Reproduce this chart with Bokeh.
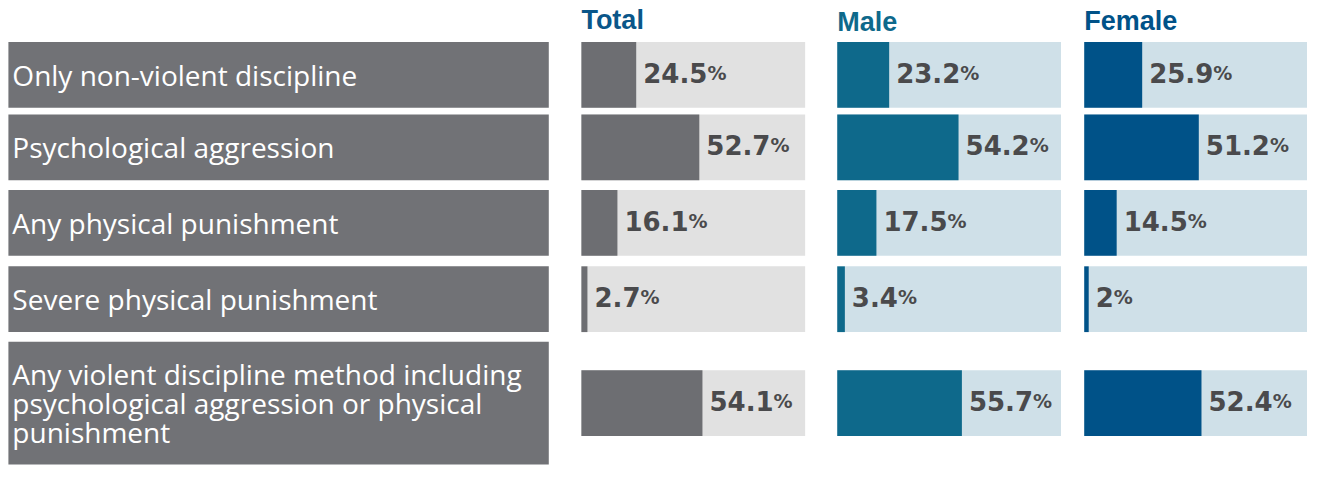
from bokeh.plotting import figure
from bokeh.models import Range1d, ColumnDataSource
from bokeh.core.properties import value
from bokeh.embed import file_html
from bokeh.resources import INLINE

# ---- data ----
categories = [
    "Only non-violent discipline",
    "Psychological aggression",
    "Any physical punishment",
    "Severe physical punishment",
    "Any violent discipline method including\npsychological aggression or physical\npunishment",
]
groups = ["Total", "Male", "Female"]
total = [24.5, 52.7, 16.1, 2.7, 54.1]
male = [23.2, 54.2, 17.5, 3.4, 55.7]
female = [25.9, 51.2, 14.5, 2.0, 52.4]
series = [total, male, female]

# ---- layout (reference pixel grid, scaled to the drawable area) ----
W, H = 1307, 465
SX, SY = W / 1323, H / 481
LABEL_L, LABEL_R = 8 * SX, 555 * SX
PANEL_START = [588 * SX, 847 * SX, 1097 * SX]
PANEL_W = 226.5 * SX
ROW_TOP = [t * SY for t in [43, 118, 196, 275, 353]]
ROW_BOT = [b * SY for b in [111, 186, 264, 343, 480]]
BAR_H = 68 * SY
TITLE_Y = [20 * SY, 22 * SY, 21 * SY]

bar_colors = ["#6d6e72", "#0e698b", "#005288"]
bg_colors = ["#e1e1e1", "#cfe0e8", "#cfe0e8"]
title_colors = ["#0a5689", "#0e698b", "#005288"]
box_color = "#717276"
val_color = "#4a4a4c"

NUM_SIZE = 26
PCT_SIZE = 19
GAP = 7

def num_width(s):
    # DejaVu Sans Bold advance widths
    return sum(0.380 if ch == "." else 0.696 for ch in s) * NUM_SIZE

p = figure(width=W, height=H, x_range=Range1d(0, W), y_range=Range1d(H, 0),
           output_backend="svg", toolbar_location=None, min_border=0,
           x_axis_type=None, y_axis_type=None, background_fill_color="white",
           border_fill_color="white")
p.grid.visible = False
p.outline_line_color = None

centers = [(t + b) / 2 for t, b in zip(ROW_TOP, ROW_BOT)]

# category boxes + labels
p.quad(left=LABEL_L, right=LABEL_R, top=ROW_TOP, bottom=ROW_BOT,
       fill_color=box_color, line_color=None)
p.text(x=[12 * SX] * len(categories), y=centers, text=categories,
       text_font=value("Open Sans"), text_font_size="28px", text_color="white",
       text_baseline="middle", text_align="left", text_line_height=0.77)

ranges = {}
for g, s in zip(groups, PANEL_START):
    ranges[g] = Range1d(-s / PANEL_W * 100, (W - s) / PANEL_W * 100)
p.extra_x_ranges = ranges

for i, g in enumerate(groups):
    vals = series[i]
    labs = [f"{v:g}" for v in vals]
    src = ColumnDataSource(dict(
        v=vals, lab=labs, pct=["%"] * len(vals),
        top=[c - BAR_H / 2 for c in centers],
        bot=[c + BAR_H / 2 for c in centers],
        y=centers,
        off=[GAP + num_width(l) for l in labs],
        zero=[0] * len(vals), full=[100] * len(vals),
    ))
    p.quad(left="zero", right="full", top="top", bottom="bot", source=src,
           fill_color=bg_colors[i], line_color=None, x_range_name=g)
    p.quad(left="zero", right="v", top="top", bottom="bot", source=src,
           fill_color=bar_colors[i], line_color=None, x_range_name=g)
    p.text(x="v", y="y", text="lab", source=src, x_offset=GAP, y_offset=-2,
           text_font=value("DejaVu Sans"), text_font_style="bold",
           text_font_size=f"{NUM_SIZE}px", text_color=val_color,
           text_baseline="alphabetic", text_align="left", x_range_name=g)
    p.text(x="v", y="y", text="pct", source=src, x_offset="off", y_offset=-2,
           text_font=value("DejaVu Sans"), text_font_style="bold",
           text_font_size=f"{PCT_SIZE}px", text_color=val_color,
           text_baseline="alphabetic", text_align="left", x_range_name=g)
    p.text(x=[0], y=[TITLE_Y[i]], text=[g], x_range_name=g,
           text_font=value("Liberation Sans"), text_font_style="bold",
           text_font_size="27px", text_color=title_colors[i],
           text_baseline="middle", text_align="left")

open("out.html", "w").write(file_html(p, INLINE))
